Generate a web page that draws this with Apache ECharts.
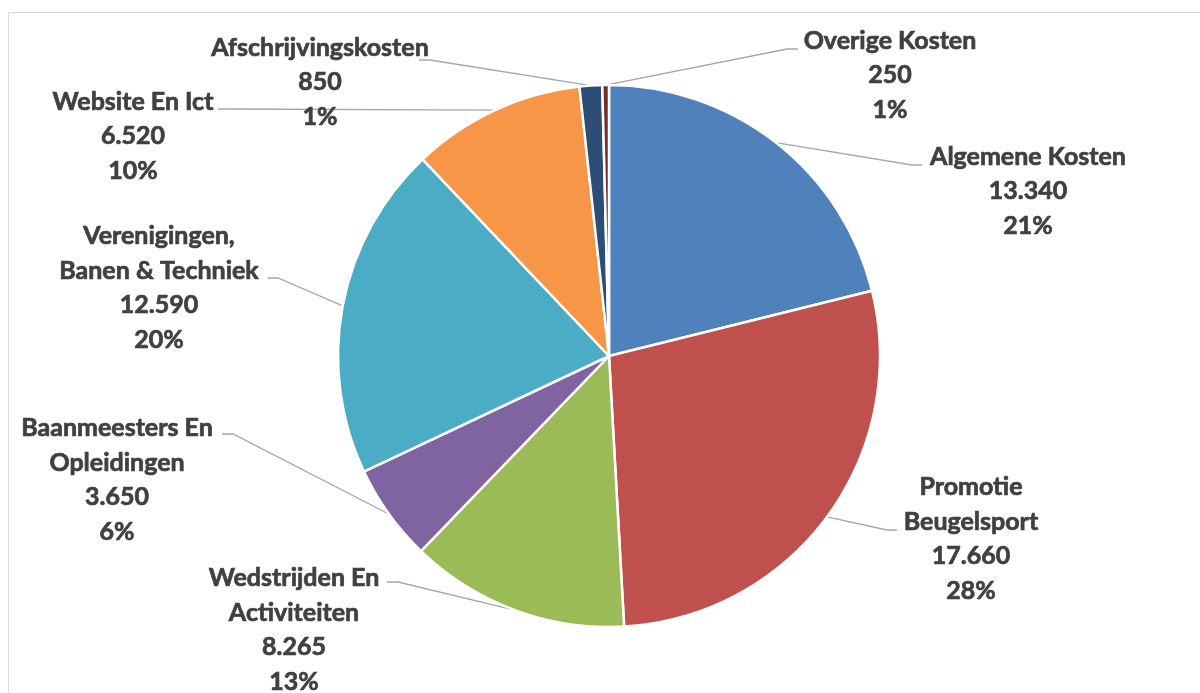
<!DOCTYPE html>
<html>
<head>
<meta charset="utf-8">
<script src="https://cdn.jsdelivr.net/npm/echarts@6/dist/echarts.min.js"></script>
<style>
  html, body { margin: 0; padding: 0; background: #fff; }
  #chart { width: 1200px; height: 693px; }
</style>
</head>
<body>
<div id="chart"></div>
<script>
const categories = [
  'Algemene Kosten',
  'Promotie\nBeugelsport',
  'Wedstrijden En\nActiviteiten',
  'Baanmeesters En\nOpleidingen',
  'Verenigingen,\nBanen & Techniek',
  'Website En Ict',
  'Afschrijvingskosten',
  'Overige Kosten'
]
const values = [13340, 17660, 8265, 3650, 12590, 6520, 850, 250]
const percentLabels = ['21%', '28%', '13%', '6%', '20%', '10%', '1%', '1%']
const colors = ['#4F81BD', '#C0504D', '#9BBB59', '#8064A2', '#4BACC6', '#F79646', '#2C4D75', '#772C2A']

// where Excel placed each label block (center x, center y)
const labelSpots = [
  [1028, 191],
  [971, 539],
  [294, 630],
  [117, 480],
  [159, 288],
  [133, 136],
  [320, 82],
  [890, 75]
]
// end of each leader line at the label side, and the elbow before it
const lineEnds = [
  [[912, 165], [922, 165]],
  [[887, 530], [897, 530]],
  [[398, 582], [387, 582]],
  [[233, 434], [222, 434]],
  [[278, 278], [268, 278]],
  [[229, 109], [218, 109]],
  [[430, 60], [419, 60]],
  [[787, 49], [798, 49]]
]

function fmt(v) {
  return String(v).replace(/\B(?=(\d{3})+(?!\d))/g, '.')
}

const chart = echarts.init(document.getElementById('chart'))

chart.setOption({
  animation: false,
  graphic: [
    {
      type: 'rect',
      shape: { x: 8.5, y: 12.5, width: 1300, height: 800 },
      style: { fill: 'none', stroke: '#d9d9d9', lineWidth: 1 },
      silent: true
    }
  ],
  series: [
    {
      type: 'pie',
      center: [609, 356],
      radius: 271,
      startAngle: 90,
      clockwise: true,
      itemStyle: { borderColor: '#fff', borderWidth: 2.5 },
      data: categories.map((name, i) => ({
        name,
        value: values[i],
        itemStyle: { color: colors[i] }
      })),
      label: {
        show: true,
        position: 'outside',
        color: '#404040',
        fontFamily: 'Lato',
        fontWeight: 'bold',
        fontSize: 25,
        lineHeight: 34.5,
        textBorderColor: '#404040',
        textBorderWidth: 0.7,
        align: 'center',
        formatter: p => p.name + '\n' + fmt(p.value) + '\n' + percentLabels[p.dataIndex]
      },
      labelLine: {
        show: true,
        length: 20,
        length2: 10,
        lineStyle: { color: '#a6a6a6', width: 1.3 }
      },
      labelLayout: p => {
        const i = p.dataIndex
        const out = {
          x: labelSpots[i][0],
          y: labelSpots[i][1],
          align: 'center',
          verticalAlign: 'middle'
        }
        if (p.labelLinePoints && p.labelLinePoints[0]) {
          out.labelLinePoints = [p.labelLinePoints[0], lineEnds[i][0], lineEnds[i][1]]
        }
        return out
      }
    }
  ]
})
</script>
</body>
</html>
